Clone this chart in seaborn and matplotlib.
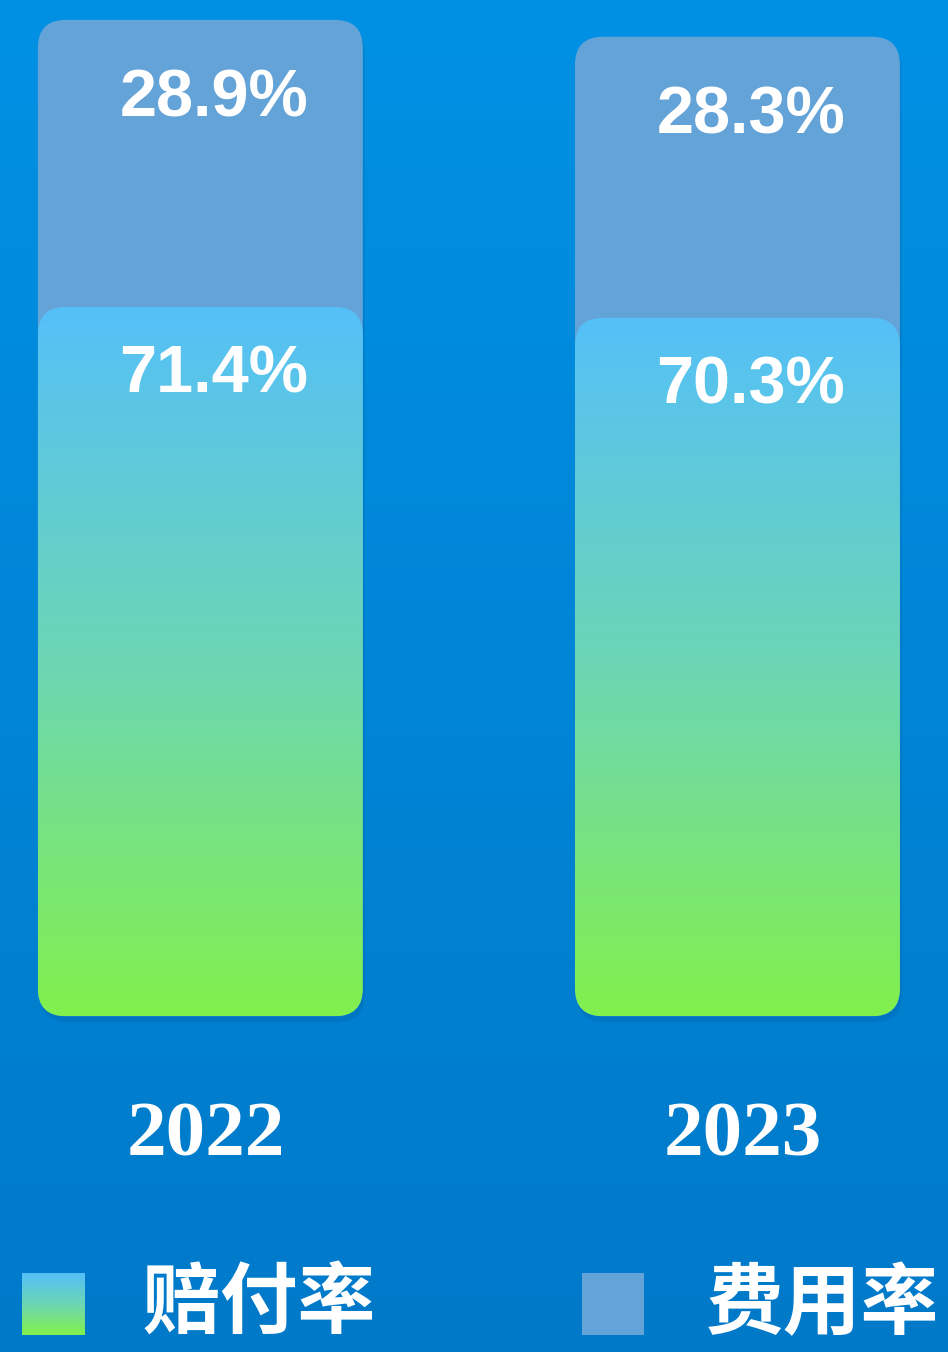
import numpy as np
import pandas as pd
import seaborn as sns
import matplotlib.pyplot as plt
from matplotlib.patches import FancyBboxPatch
from matplotlib.colors import LinearSegmentedColormap

years = ['2022', '2023']
claim_ratio = [71.4, 70.3]
expense_ratio = [28.9, 28.3]
legend_names = ['赔付率', '费用率']

sns.set_theme(style='white')
plt.rcParams['font.family'] = ['Liberation Sans', 'Noto Sans CJK SC', 'DejaVu Sans']

df = pd.DataFrame({'year': years, 'claim': claim_ratio, 'expense': expense_ratio})
df['total'] = df['claim'] + df['expense']

grad_cmap = LinearSegmentedColormap.from_list('bar', ['#55c0f8', '#6cd6b4', '#82f04c'])
top_color = '#64a3d8'

fig = plt.figure(figsize=(9.48, 13.52), dpi=100)

# background gradient
bg = fig.add_axes([0, 0, 1, 1], zorder=-1)
bg.imshow(np.linspace(0, 1, 256).reshape(-1, 1), aspect='auto', extent=[0, 1, 0, 1],
          cmap=LinearSegmentedColormap.from_list('bg', ['#0091e4', '#0079c9']))
bg.axis('off')

ax = fig.add_axes([0, 0, 1, 1])
ax.patch.set_alpha(0)
sns.barplot(data=df, x='year', y='total', color=top_color, width=0.605, ax=ax)
sns.barplot(data=df, x='year', y='claim', color='#6cd6b4', width=0.605, ax=ax)

xlim = (-0.373, 1.392)
ylim = (-33.8, 102.3)
px_x = 948 / (xlim[1] - xlim[0])
px_y = 1352 / (ylim[1] - ylim[0])
r_x = 28 / px_x
asp = px_x / px_y

n = len(years)
for k, p in enumerate(list(ax.patches)):
    x, y, w, h = p.get_x(), p.get_y(), p.get_width(), p.get_height()
    p.set_visible(False)
    style = f'round,pad=0,rounding_size={r_x}'
    if k < n:
        # soft shadow
        sh = FancyBboxPatch((x + 0.004, y - 0.6), w, h, boxstyle=style, mutation_aspect=asp,
                            facecolor='#003a70', edgecolor='none', alpha=0.12, zorder=1)
        ax.add_patch(sh)
        fp = FancyBboxPatch((x, y), w, h, boxstyle=style, mutation_aspect=asp,
                            facecolor=top_color, edgecolor='none', zorder=2)
        ax.add_patch(fp)
    else:
        fp = FancyBboxPatch((x, y), w, h, boxstyle=style, mutation_aspect=asp,
                            facecolor='none', edgecolor='none', zorder=3)
        ax.add_patch(fp)
        im = ax.imshow(np.linspace(0, 1, 256).reshape(-1, 1), extent=[x, x + w, y, y + h],
                       cmap=grad_cmap, aspect='auto', zorder=3)
        im.set_clip_path(fp)

for i in range(n):
    ax.text(i + 0.025, df['total'][i] - 8.0, f'{expense_ratio[i]}%', ha='center', va='center',
            color='white', fontsize=48, fontweight='bold', zorder=5)
    ax.text(i + 0.025, claim_ratio[i] - 6.9, f'{claim_ratio[i]}%', ha='center', va='center',
            color='white', fontsize=48, fontweight='bold', zorder=5)
    ax.text(i + 0.01, -12.2, years[i], ha='center', va='center', color='white',
            fontsize=57, fontweight='bold', family=['Liberation Serif', 'DejaVu Serif'], zorder=5)

ax.set_xlim(*xlim)
ax.set_ylim(*ylim)
ax.axis('off')

# legend
sw1 = fig.add_axes([22 / 948, 17 / 1352, 63 / 948, 62 / 1352])
sw1.imshow(np.linspace(0, 1, 64).reshape(-1, 1), aspect='auto', cmap=grad_cmap)
sw1.axis('off')
sw2 = fig.add_axes([582 / 948, 17 / 1352, 62 / 948, 62 / 1352])
sw2.set_facecolor(top_color)
sw2.set_xticks([])
sw2.set_yticks([])
for s in sw2.spines.values():
    s.set_visible(False)

fig.text(143 / 948, 47 / 1352, legend_names[0], ha='left', va='center', color='white',
         fontsize=56, fontweight='bold', family=['Noto Sans CJK SC', 'DejaVu Sans'])
fig.text(706 / 948, 47 / 1352, legend_names[1], ha='left', va='center', color='white',
         fontsize=56, fontweight='bold', family=['Noto Sans CJK SC', 'DejaVu Sans'])

fig.savefig('out.png', dpi=100)
